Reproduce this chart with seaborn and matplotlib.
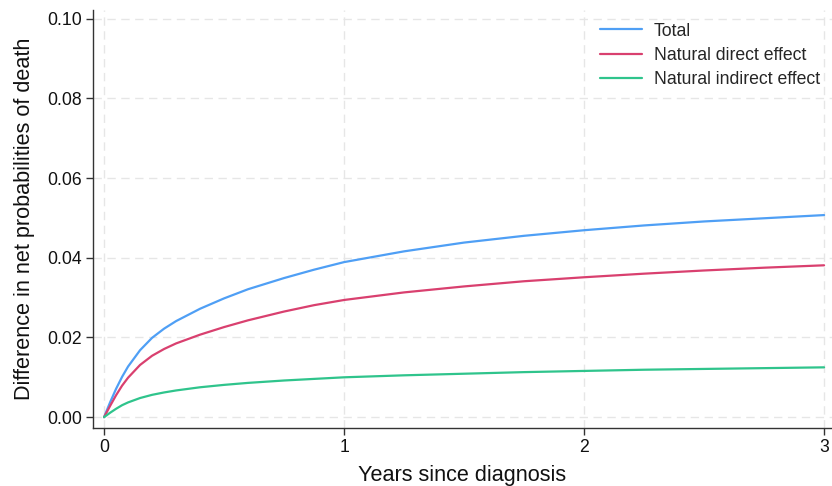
import numpy as np
import pandas as pd
import matplotlib
matplotlib.use("Agg")
import matplotlib.pyplot as plt
import seaborn as sns

sns.set_style("white")
plt.rcParams['font.family'] = ['Liberation Sans', 'DejaVu Sans']

# values
years = [0, 0.025, 0.05, 0.075, 0.1, 0.15, 0.2, 0.25, 0.3, 0.4, 0.5, 0.6, 0.75, 0.875,
         1.0, 1.25, 1.5, 1.75, 2.0, 2.25, 2.5, 2.75, 3.0]
total = [0, 0.0037, 0.0071, 0.0101, 0.0127, 0.0168, 0.0199, 0.0222, 0.0241, 0.0272,
         0.0298, 0.0321, 0.0349, 0.0370, 0.0389, 0.0416, 0.0438, 0.0455, 0.0469, 0.0481,
         0.0491, 0.0499, 0.0507]
direct = [0, 0.0028, 0.0055, 0.0079, 0.0099, 0.0131, 0.0154, 0.0171, 0.0185, 0.0207,
          0.0226, 0.0243, 0.0265, 0.0281, 0.0294, 0.0313, 0.0328, 0.0341, 0.0351, 0.0360,
          0.0368, 0.0375, 0.0381]
indirect = [0, 0.0011, 0.0021, 0.0030, 0.0037, 0.0048, 0.0056, 0.0062, 0.0067, 0.0075,
            0.0081, 0.0086, 0.0092, 0.0096, 0.0100, 0.0105, 0.0109, 0.0113, 0.0116, 0.0119,
            0.0121, 0.0123, 0.0125]
series = ['Total', 'Natural direct effect', 'Natural indirect effect']
colors = ['#4f9ff5', '#d9406f', '#2fc48c']

df = pd.concat([
    pd.DataFrame({'years': years, 'diff': vals, 'effect': name})
    for name, vals in zip(series, [total, direct, indirect])
])

fig = plt.figure(figsize=(8.32, 4.86), dpi=100)
ax = fig.add_axes([0.1118, 0.119, 0.8882, 0.860])

sns.lineplot(data=df, x='years', y='diff', hue='effect', hue_order=series,
             palette=colors, linewidth=1.6, ax=ax)

ax.set_xlim(-0.046, 3.033)
ax.set_ylim(-0.00276, 0.1021)
ax.set_xticks([0, 1, 2, 3])
ax.set_yticks([0, 0.02, 0.04, 0.06, 0.08, 0.10])
ax.set_yticklabels(['0.00', '0.02', '0.04', '0.06', '0.08', '0.10'])

ax.grid(True, color='#e6e6e6', linestyle=(0, (6, 4)), linewidth=1.0)
for s in ['top', 'right']:
    ax.spines[s].set_visible(False)
for s in ['left', 'bottom']:
    ax.spines[s].set_color('#333333')
    ax.spines[s].set_linewidth(1.0)
ax.tick_params(axis='both', direction='out', length=5, width=1, color='#333333',
               labelsize=12.7, labelcolor='#111111', bottom=True, left=True, pad=3)

ax.set_xlabel('Years since diagnosis', fontsize=15.6, color='#111111', labelpad=6)
ax.set_ylabel('Difference in net probabilities of death', fontsize=15.6,
              color='#111111', labelpad=9)

ax.legend(loc='upper right', frameon=False, fontsize=12.7, handlelength=2.4,
          labelspacing=0.42, handletextpad=0.65, borderaxespad=0.3,
          bbox_to_anchor=(1.0, 1.0))

fig.savefig('out.png', dpi=100)
